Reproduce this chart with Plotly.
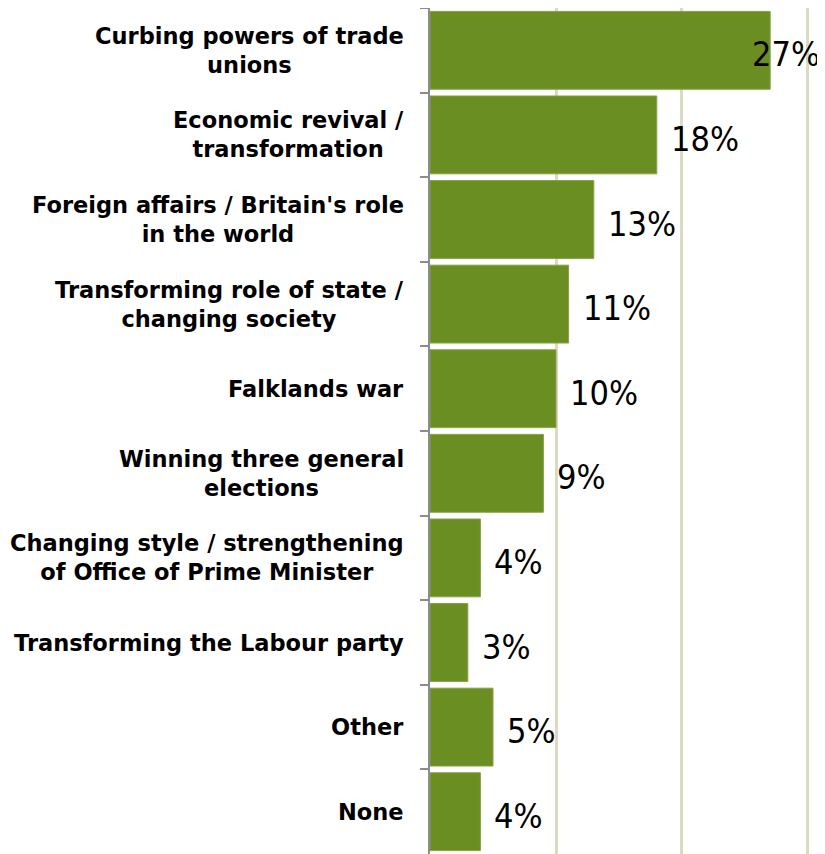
import plotly.graph_objects as go

categories = [
    "Curbing powers of trade<br>unions",
    "Economic revival /<br>transformation",
    "Foreign affairs / Britain's role<br>in the world",
    "Transforming role of state /<br>changing society",
    "Falklands war",
    "Winning three general<br>elections",
    "Changing style / strengthening<br>of Office of Prime Minister",
    "Transforming the Labour party",
    "Other",
    "None",
]
values = [27, 18, 13, 11, 10, 9, 4, 3, 5, 4]
value_labels = ["27%", "18%", "13%", "11%", "10%", "9%", "4%", "3%", "5%", "4%"]

BAR_COLOR = "#6b8e23"
GRID_COLOR = "#d9dcc0"
AXIS_COLOR = "#8c8c8c"
X_MAX = 31.35

fig = go.Figure(
    go.Bar(
        x=values,
        y=categories,
        orientation="h",
        marker=dict(color=BAR_COLOR, line=dict(color="#86a244", width=1)),
        hoverinfo="skip",
    )
)

annotations = []
for cat in categories:
    annotations.append(
        dict(
            x=0, xref="paper", y=cat, yref="y",
            text=cat, showarrow=False, xanchor="right", yanchor="middle",
            align="center", xshift=-24,
            font=dict(family="DejaVu Sans", size=22.5, color="#000000", weight="bold"),
        )
    )
for cat, v, lab in zip(categories, values, value_labels):
    if v > 25:
        pos = dict(x=1, xref="x domain", xanchor="right", xshift=-3)
    else:
        pos = dict(x=v, xref="x", xanchor="left", xshift=12)
    annotations.append(
        dict(
            y=cat, yref="y", text=lab, showarrow=False, yanchor="middle", yshift=-4,
            font=dict(family="DejaVu Sans Condensed, sans-serif",
                      size=34, color="#000000"),
            **pos,
        )
    )

fig.update_layout(
    width=817,
    height=846,
    margin=dict(l=422, r=0, t=0, b=0),
    paper_bgcolor="white",
    plot_bgcolor="white",
    bargap=0.08,
    showlegend=False,
    annotations=annotations,
    xaxis=dict(
        range=[0, X_MAX],
        tickvals=[10, 20, 30],
        showticklabels=False,
        showgrid=True,
        gridcolor=GRID_COLOR,
        gridwidth=3,
        zeroline=False,
        showline=False,
        ticks="",
        fixedrange=True,
    ),
    yaxis=dict(
        autorange="reversed",
        showticklabels=False,
        showline=True,
        linecolor=AXIS_COLOR,
        linewidth=2,
        ticks="outside",
        tickson="boundaries",
        ticklen=8,
        tickwidth=2,
        tickcolor=AXIS_COLOR,
        showgrid=False,
        zeroline=False,
        fixedrange=True,
    ),
)

fig.write_html("out.html")
